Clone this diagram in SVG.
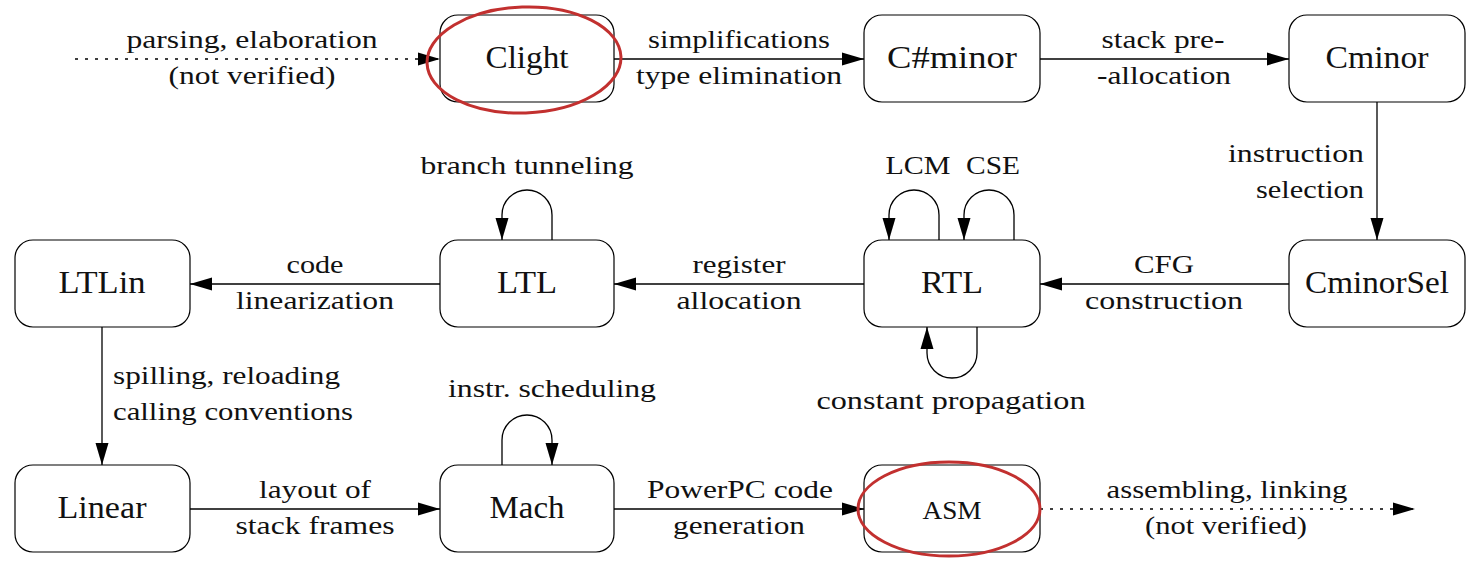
<svg xmlns="http://www.w3.org/2000/svg" width="1474" height="570" viewBox="0 0 1474 570">
<style>
.box{fill:#fff;stroke:#000;stroke-width:1.2}
.nl{font-size:32px;text-anchor:middle}
.el{font-size:25px;text-anchor:middle}
.er{font-size:25px;text-anchor:end}
.es{font-size:25px;text-anchor:start}
.edge{fill:none;stroke:#000;stroke-width:1.3;marker-end:url(#ah)}
.dot{stroke-dasharray:3 7}
.mark{fill:none;stroke:#c2302f;stroke-width:3}
</style>
<defs>
<marker id="ah" markerUnits="userSpaceOnUse" markerWidth="24" markerHeight="14" refX="22" refY="7" orient="auto" viewBox="0 0 24 14">
<path d="M0,0.5 L22,7 L0,13.5 Z" fill="#000"/>
</marker>
</defs>
<rect width="1474" height="570" fill="#fff"/>

<g font-family="Liberation Serif, DejaVu Serif, Times New Roman, serif" fill="#111">
<g id="connectors">
<path class="edge dot" d="M75,59 H440"/>
<path class="edge" d="M614,59 H864"/>
<path class="edge" d="M1040,59 H1289"/>
<path class="edge" d="M1377,102 V240"/>
<path class="edge" d="M1289,284 H1040"/>
<path class="edge" d="M864,284 H614"/>
<path class="edge" d="M440,284 H190"/>
<path class="edge" d="M102,327 V465"/>
<path class="edge" d="M190,509 H440"/>
<path class="edge" d="M614,509 H864"/>
<path class="edge dot" d="M1040,509 H1415"/>
<path class="edge" d="M552,240 V215 A25,25 0 0 0 502,215 V240"/>
<path class="edge" d="M939,240 V215 A25,25 0 0 0 889,215 V240"/>
<path class="edge" d="M1014,240 V215 A25,25 0 0 0 964,215 V240"/>
<path class="edge" d="M977,327 V353 A25,25 0 0 1 927,353 V327"/>
<path class="edge" d="M502,465 V440 A25,25 0 0 1 552,440 V465"/>

<text class="el" x="252" y="48" textLength="251" lengthAdjust="spacingAndGlyphs">parsing, elaboration</text>
<text class="el" x="252" y="84" textLength="167" lengthAdjust="spacingAndGlyphs">(not verified)</text>
<text class="el" x="739" y="48" textLength="182" lengthAdjust="spacingAndGlyphs">simplifications</text>
<text class="el" x="739" y="84" textLength="206" lengthAdjust="spacingAndGlyphs">type elimination</text>
<text class="el" x="1163" y="48" textLength="123" lengthAdjust="spacingAndGlyphs">stack pre-</text>
<text class="el" x="1164" y="84" textLength="134" lengthAdjust="spacingAndGlyphs">-allocation</text>
<text class="er" x="1364" y="162" textLength="136" lengthAdjust="spacingAndGlyphs">instruction</text>
<text class="er" x="1364" y="198" textLength="108" lengthAdjust="spacingAndGlyphs">selection</text>
<text class="el" x="1164" y="273" textLength="60" lengthAdjust="spacingAndGlyphs">CFG</text>
<text class="el" x="1164" y="309" textLength="158" lengthAdjust="spacingAndGlyphs">construction</text>
<text class="el" x="739" y="273" textLength="93" lengthAdjust="spacingAndGlyphs">register</text>
<text class="el" x="739" y="309" textLength="125" lengthAdjust="spacingAndGlyphs">allocation</text>
<text class="el" x="315" y="273" textLength="57" lengthAdjust="spacingAndGlyphs">code</text>
<text class="el" x="315" y="309" textLength="158" lengthAdjust="spacingAndGlyphs">linearization</text>
<text class="el" x="527" y="174" textLength="213" lengthAdjust="spacingAndGlyphs">branch tunneling</text>
<text class="el" x="918" y="174" textLength="65" lengthAdjust="spacingAndGlyphs">LCM</text>
<text class="el" x="993" y="174" textLength="54" lengthAdjust="spacingAndGlyphs">CSE</text>
<text class="el" x="951" y="409" textLength="269" lengthAdjust="spacingAndGlyphs">constant propagation</text>
<text class="es" x="113" y="384" textLength="227" lengthAdjust="spacingAndGlyphs">spilling, reloading</text>
<text class="es" x="113" y="420" textLength="240" lengthAdjust="spacingAndGlyphs">calling conventions</text>
<text class="el" x="552" y="397" textLength="208" lengthAdjust="spacingAndGlyphs">instr. scheduling</text>
<text class="el" x="315" y="498" textLength="112" lengthAdjust="spacingAndGlyphs">layout of</text>
<text class="el" x="315" y="534" textLength="159" lengthAdjust="spacingAndGlyphs">stack frames</text>
<text class="el" x="740" y="498" textLength="186" lengthAdjust="spacingAndGlyphs">PowerPC code</text>
<text class="el" x="739" y="534" textLength="132" lengthAdjust="spacingAndGlyphs">generation</text>
<text class="el" x="1227" y="498" textLength="241" lengthAdjust="spacingAndGlyphs">assembling, linking</text>
<text class="el" x="1226" y="534" textLength="162" lengthAdjust="spacingAndGlyphs">(not verified)</text>
</g>

<g id="Clight"><rect class="box" x="440" y="15" width="174" height="87" rx="18"/><text class="nl" x="527" y="68" textLength="83" lengthAdjust="spacingAndGlyphs">Clight</text></g>
<g id="Cshminor"><rect class="box" x="864" y="15" width="176" height="87" rx="18"/><text class="nl" x="952" y="68" textLength="130" lengthAdjust="spacingAndGlyphs">C#minor</text></g>
<g id="Cminor"><rect class="box" x="1289" y="15" width="176" height="87" rx="18"/><text class="nl" x="1377" y="68" textLength="103" lengthAdjust="spacingAndGlyphs">Cminor</text></g>
<g id="LTLin"><rect class="box" x="15" y="240" width="175" height="87" rx="18"/><text class="nl" x="102" y="293" textLength="87" lengthAdjust="spacingAndGlyphs">LTLin</text></g>
<g id="LTL"><rect class="box" x="440" y="240" width="174" height="87" rx="18"/><text class="nl" x="527" y="293" textLength="60" lengthAdjust="spacingAndGlyphs">LTL</text></g>
<g id="RTL"><rect class="box" x="864" y="240" width="176" height="87" rx="18"/><text class="nl" x="952" y="293" textLength="62" lengthAdjust="spacingAndGlyphs">RTL</text></g>
<g id="CminorSel"><rect class="box" x="1289" y="240" width="176" height="87" rx="18"/><text class="nl" x="1377" y="293" textLength="144" lengthAdjust="spacingAndGlyphs">CminorSel</text></g>
<g id="Linear"><rect class="box" x="15" y="465" width="175" height="87" rx="18"/><text class="nl" x="102" y="518" textLength="89" lengthAdjust="spacingAndGlyphs">Linear</text></g>
<g id="Mach"><rect class="box" x="440" y="465" width="174" height="87" rx="18"/><text class="nl" x="527" y="518" textLength="75" lengthAdjust="spacingAndGlyphs">Mach</text></g>
<g id="ASM"><rect class="box" x="864" y="465" width="176" height="87" rx="18"/><text class="nl" x="952" y="519" style="font-size:26px" textLength="59" lengthAdjust="spacingAndGlyphs">ASM</text></g>
</g>

<g id="highlights">
<ellipse class="mark" cx="524" cy="60" rx="97" ry="53" transform="rotate(-2 524 60)"/>
<ellipse class="mark" cx="949" cy="509" rx="91" ry="47"/>
</g>
</svg>
